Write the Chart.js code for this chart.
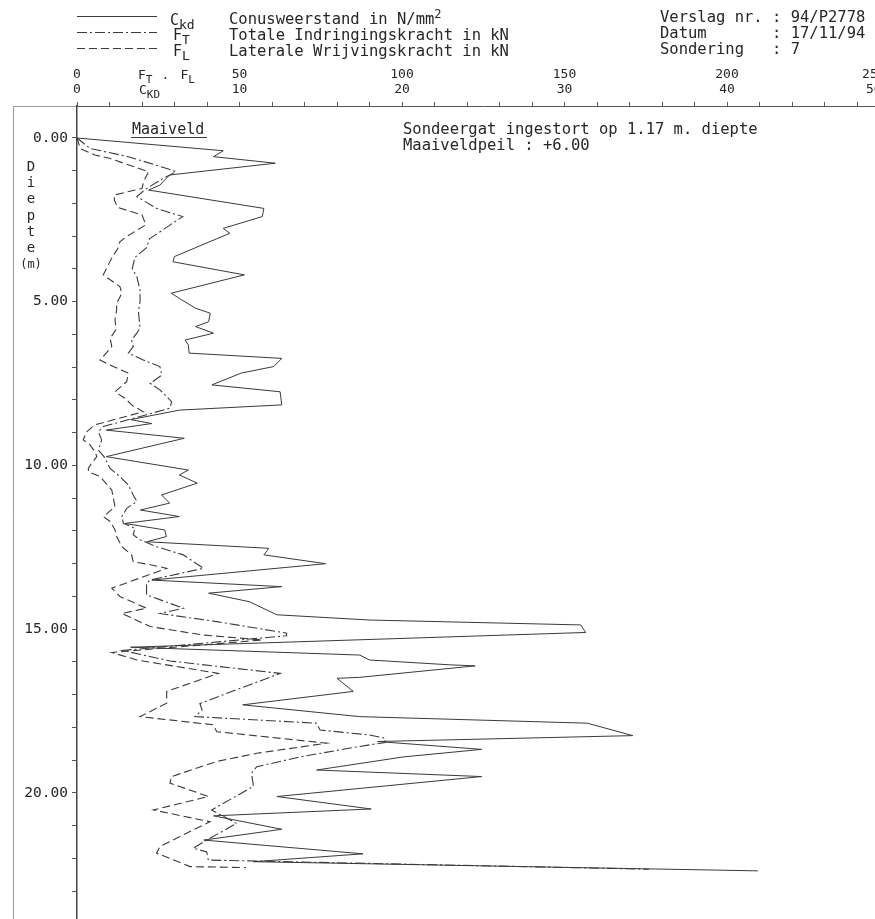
<!DOCTYPE html>
<html>
<head>
<meta charset="utf-8">
<title>Sondering 7 - 94/P2778</title>
<script src="https://cdn.jsdelivr.net/npm/chart.js@4.4.1/dist/chart.umd.min.js"></script>
<style>
  html, body { margin: 0; padding: 0; background: #fff; overflow: hidden; }
  #wrap { width: 900px; height: 919px; }
</style>
</head>
<body>
<div id="wrap"><canvas id="sondeerChart" width="900" height="919"></canvas></div>
<script>
// Conusweerstand Ckd (N/mm2) against depth (m)
const ckdDepth = [0, 0.39, 0.57, 0.77, 1.13, 1.28, 1.44, 1.59, 2.15, 2.40, 2.76, 2.91, 3.62, 3.78, 4.18, 4.74, 4.90, 5.20, 5.35, 5.61, 5.76, 5.96, 6.17, 6.32, 6.57, 6.73, 6.98, 7.18, 7.54, 7.75, 8.15, 8.31, 8.60, 8.72, 8.92, 9.17, 9.73, 10.14, 10.29, 10.54, 10.90, 11.15, 11.36, 11.56, 11.77, 11.97, 12.17, 12.33, 12.53, 12.73, 13.00, 13.50, 13.70, 13.90, 14.16, 14.56, 14.72, 14.87, 15.10, 15.55, 15.79, 15.94, 16.09, 16.12, 16.47, 16.50, 16.90, 17.31, 17.67, 17.87, 18.25, 18.43, 18.67, 18.90, 19.30, 19.50, 20.11, 20.49, 20.70, 21.11, 21.44, 21.86, 22.10, 22.38];
const ckdValues = [0, 9.0, 8.4, 12.2, 5.7, 5.4, 5.1, 4.4, 11.5, 11.4, 9.0, 9.4, 6.0, 5.9, 10.3, 5.8, 6.3, 7.3, 8.2, 8.1, 7.3, 8.4, 6.65, 6.85, 6.9, 12.6, 12.1, 10.1, 8.3, 12.5, 12.6, 6.3, 3.3, 4.6, 1.8, 6.6, 1.8, 6.85, 6.3, 7.4, 5.2, 5.7, 3.9, 6.3, 2.95, 5.4, 5.5, 4.3, 11.8, 11.5, 15.3, 4.6, 12.6, 8.1, 10.6, 12.3, 18.0, 31.0, 31.3, 3.3, 17.4, 18.0, 23.0, 24.5, 17.4, 16.0, 17.0, 10.2, 17.4, 31.4, 34.2, 18.5, 24.9, 20.1, 14.75, 24.9, 12.3, 18.1, 8.4, 12.6, 7.8, 17.6, 10.85, 41.9];

// Totale indringingskracht FT (kN)
const ftDepth = [0, 0.32, 0.57, 0.93, 1.03, 1.23, 1.54, 1.79, 2.15, 2.40, 2.66, 3.08, 3.35, 3.65, 4.00, 4.23, 4.44, 4.64, 5.00, 5.30, 5.81, 5.96, 6.17, 6.37, 6.57, 6.78, 6.98, 7.24, 7.49, 7.69, 8.05, 8.25, 8.45, 8.81, 8.97, 9.22, 9.53, 9.73, 10.09, 10.34, 10.60, 10.90, 11.10, 11.31, 11.56, 11.77, 11.92, 12.12, 12.27, 12.48, 12.73, 13.14, 13.50, 13.60, 13.95, 14.36, 14.52, 14.77, 15.12, 15.20, 15.65, 15.97, 16.35, 17.27, 17.47, 17.67, 17.87, 18.08, 18.23, 18.33, 18.46, 18.58, 18.90, 19.20, 19.40, 19.80, 20.52, 20.93, 21.44, 21.69, 21.80, 22.05, 22.33];
const ftValues = [0, 4.0, 15.8, 27.6, 30.5, 26.6, 21.4, 18.4, 24.5, 32.5, 28.6, 22.3, 21.4, 17.8, 17.0, 18.4, 18.9, 19.4, 19.4, 18.9, 19.4, 18.4, 16.8, 17.3, 15.8, 20.4, 25.5, 26.1, 22.5, 25.5, 29.1, 28.6, 21.4, 8.1, 6.6, 7.6, 6.6, 8.3, 10.2, 13.2, 15.8, 17.3, 18.4, 15.3, 13.8, 14.3, 17.8, 17.3, 19.4, 24.5, 32.7, 38.9, 22.5, 21.4, 21.4, 32.7, 25.5, 43.0, 64.5, 64.5, 14.0, 28.6, 62.5, 37.8, 38.5, 36.3, 73.7, 74.8, 90.0, 94.8, 94.8, 87.0, 68.6, 55.3, 53.7, 54.3, 41.4, 49.1, 39.9, 35.8, 39.9, 40.4, 176];

// Laterale wrijvingskracht FL (kN)
const flDepth = [0, 0.32, 0.52, 0.62, 1.03, 1.33, 1.54, 1.74, 1.90, 2.12, 2.35, 2.65, 3.01, 3.17, 3.35, 3.70, 4.18, 4.54, 4.74, 5.05, 5.25, 5.55, 5.85, 6.12, 6.37, 6.78, 6.98, 7.18, 7.44, 7.75, 7.95, 8.15, 8.36, 8.76, 8.97, 9.22, 9.37, 9.58, 9.73, 9.93, 10.09, 10.19, 10.34, 10.75, 11.26, 11.56, 11.71, 11.97, 12.17, 12.48, 12.73, 12.94, 13.04, 13.14, 13.75, 14.00, 14.36, 14.52, 14.92, 15.18, 15.33, 15.71, 15.94, 16.35, 16.90, 17.26, 17.67, 17.92, 18.13, 18.48, 18.79, 19.04, 19.50, 19.70, 20.11, 20.52, 20.88, 21.33, 21.64, 21.84, 22.25, 22.28];
const flValues = [0, 1.0, 5.5, 10.0, 22.0, 20.5, 20.0, 11.5, 11.5, 12.5, 20.0, 21.2, 15.3, 13.2, 12.7, 10.5, 8.1, 13.2, 13.8, 12.2, 12.2, 11.7, 12.0, 10.2, 10.7, 7.1, 11.2, 15.8, 15.3, 11.7, 14.8, 16.8, 20.4, 5.5, 3.0, 1.9, 4.0, 5.5, 6.1, 4.5, 3.5, 3.5, 7.1, 10.7, 11.7, 8.1, 10.2, 11.7, 12.2, 13.8, 16.8, 17.3, 23.0, 27.6, 10.7, 13.2, 21.4, 13.8, 22.5, 38.9, 57.0, 10.7, 18.4, 43.5, 27.6, 27.6, 19.4, 41.9, 43.0, 76.8, 55.3, 43.0, 29.1, 28.6, 40.4, 23.5, 40.9, 31.7, 25.5, 24.5, 34.8, 52.0];

// Top axis labels: kN row above, N/mm2 row below
const kNTickLabels = ['0', '50', '100', '150', '200', '250'];
const mpaTickLabels = ['0', '10', '20', '30', '40', '50'];

const MONO = "'DejaVu Sans Mono', 'Liberation Mono', monospace";
const INK = '#262626';
const LINE = '#3a3a3a';
const ftDash = [10, 3, 2, 3];
const flDash = [8, 4];

const toPoints = (depths, values) => depths.map((d, i) => ({ x: values[i], y: d }));

function subText(ctx, base, sub, x, y, size) {
    ctx.font = size + 'px ' + MONO;
    ctx.fillText(base, x, y);
    const w = ctx.measureText(base).width;
    ctx.font = (size - 2) + 'px ' + MONO;
    ctx.fillText(sub, x + w, y + 4);
    return x + w + ctx.measureText(sub).width;
}

// frame of the scanned sheet
const framePlugin = {
    id: 'frame',
    beforeDraw(chart) {
        const ctx = chart.ctx;
        ctx.save();
        ctx.strokeStyle = '#9a9a9a';
        ctx.lineWidth = 1;
        ctx.beginPath();
        ctx.moveTo(13.5, 919);
        ctx.lineTo(13.5, 106.5);
        ctx.lineTo(chart.chartArea.left, 106.5);
        ctx.stroke();
        ctx.restore();
    }
};

// header, legend and notes
const textPlugin = {
    id: 'sondeerText',
    afterDraw(chart) {
        const ctx = chart.ctx;
        ctx.save();
        ctx.fillStyle = INK;
        ctx.strokeStyle = LINE;
        ctx.lineWidth = 1;

        [[], ftDash, flDash].forEach((dash, i) => {
            ctx.setLineDash(dash);
            ctx.beginPath();
            ctx.moveTo(77, 16.5 + i * 16);
            ctx.lineTo(157, 16.5 + i * 16);
            ctx.stroke();
        });
        ctx.setLineDash([]);

        ctx.textAlign = 'left';
        ctx.textBaseline = 'alphabetic';
        subText(ctx, 'C', 'kd', 170, 25, 15);
        subText(ctx, 'F', 'T', 173, 40, 15);
        subText(ctx, 'F', 'L', 173, 56, 15);

        ctx.textBaseline = 'middle';
        ctx.font = '15.5px ' + MONO;
        const conus = 'Conusweerstand in N/mm';
        ctx.fillText(conus, 229, 20);
        const cw = ctx.measureText(conus).width;
        ctx.fillText('Totale Indringingskracht in kN', 229, 36);
        ctx.fillText('Laterale Wrijvingskracht in kN', 229, 52);
        ctx.fillText('Verslag nr. : 94/P2778', 660, 18);
        ctx.fillText('Datum       : 17/11/94', 660, 34);
        ctx.fillText('Sondering   : 7', 660, 50);
        ctx.font = '12px ' + MONO;
        ctx.fillText('2', 229 + cw, 15);

        // axis titles in the tick rows
        ctx.textBaseline = 'alphabetic';
        let x = subText(ctx, 'F', 'T', 138, 79, 13);
        ctx.font = '13px ' + MONO;
        ctx.fillText('.', x + 9, 79);
        subText(ctx, 'F', 'L', x + 28, 79, 13);
        subText(ctx, 'C', 'KD', 139, 94, 13);

        // ground level
        ctx.font = '15px ' + MONO;
        ctx.textBaseline = 'middle';
        ctx.fillText('Maaiveld', 132, 130);
        ctx.beginPath();
        ctx.moveTo(131, 137.5);
        ctx.lineTo(207, 137.5);
        ctx.stroke();

        ctx.font = '15.5px ' + MONO;
        ctx.fillText('Sondeergat ingestort op 1.17 m. diepte', 403, 130);
        ctx.fillText('Maaiveldpeil : +6.00', 403, 146);

        // vertical axis title
        ctx.textAlign = 'center';
        ctx.font = '14px ' + MONO;
        ['D', 'i', 'e', 'p', 't', 'e'].forEach((ch, i) => {
            ctx.fillText(ch, 31, 167 + i * 16.3);
        });
        ctx.font = '12px ' + MONO;
        ctx.fillText('(m)', 31, 265);
        ctx.restore();
    }
};

const ctx = document.getElementById('sondeerChart').getContext('2d');
new Chart(ctx, {
    type: 'scatter',
    data: {
        datasets: [{
            label: 'Ckd',
            data: toPoints(ckdDepth, ckdValues),
            xAxisID: 'x',
            borderColor: LINE,
            borderWidth: 1,
            borderDash: []
        }, {
            label: 'FT',
            data: toPoints(ftDepth, ftValues),
            xAxisID: 'xkN',
            borderColor: LINE,
            borderWidth: 1.1,
            borderDash: ftDash
        }, {
            label: 'FL',
            data: toPoints(flDepth, flValues),
            xAxisID: 'xkN',
            borderColor: LINE,
            borderWidth: 1.1,
            borderDash: flDash
        }]
    },
    options: {
        responsive: false,
        animation: false,
        showLine: true,
        elements: {
            point: { radius: 0, hoverRadius: 0 },
            line: { tension: 0, fill: false }
        },
        layout: { padding: { top: 0, left: 0, right: 10.5, bottom: 0 } },
        plugins: {
            legend: { display: false },
            tooltip: { enabled: false }
        },
        scales: {
            x: {
                type: 'linear',
                position: 'top',
                min: 0,
                max: 50,
                grid: { drawOnChartArea: false, tickLength: 4, color: '#555', tickWidth: 1 },
                border: { display: true, color: '#555', width: 1 },
                ticks: {
                    stepSize: 2,
                    autoSkip: false,
                    maxRotation: 0,
                    minRotation: 0,
                    padding: 4.5,
                    color: INK,
                    font: { family: MONO, size: 13, lineHeight: 1.15 },
                    callback: (value) => {
                        const i = Math.round(value / 10);
                        if (Math.abs(value - i * 10) > 1e-6) return '';
                        // last column runs off the sheet
                        const pad = i === kNTickLabels.length - 1 ? '    ' : '';
                        return [kNTickLabels[i] + pad, mpaTickLabels[i] + pad];
                    }
                },
                afterFit: (scale) => {
                    scale.height = 106;
                    scale.paddingLeft = 0;
                    scale.paddingRight = 0;
                }
            },
            xkN: {
                type: 'linear',
                axis: 'x',
                position: 'top',
                min: 0,
                max: 250,
                display: false
            },
            y: {
                type: 'linear',
                reverse: true,
                min: -0.977,
                max: 23.85,
                grid: { drawOnChartArea: false, tickLength: 5, color: '#555' },
                border: { display: true, color: '#444', width: 1.5 },
                afterBuildTicks: (scale) => {
                    scale.ticks = scale.ticks.filter(t => t.value >= 0 && Math.abs(t.value - Math.round(t.value)) < 1e-6);
                },
                ticks: {
                    stepSize: 1,
                    autoSkip: false,
                    padding: 4,
                    color: INK,
                    font: { family: MONO, size: 14.5 },
                    callback: (value) => (Math.round(value) % 5 === 0 ? value.toFixed(2) : '')
                },
                afterFit: (scale) => {
                    scale.width = 77;
                    scale.paddingTop = 0;
                    scale.paddingBottom = 0;
                }
            }
        }
    },
    plugins: [framePlugin, textPlugin]
});
</script>
</body>
</html>
